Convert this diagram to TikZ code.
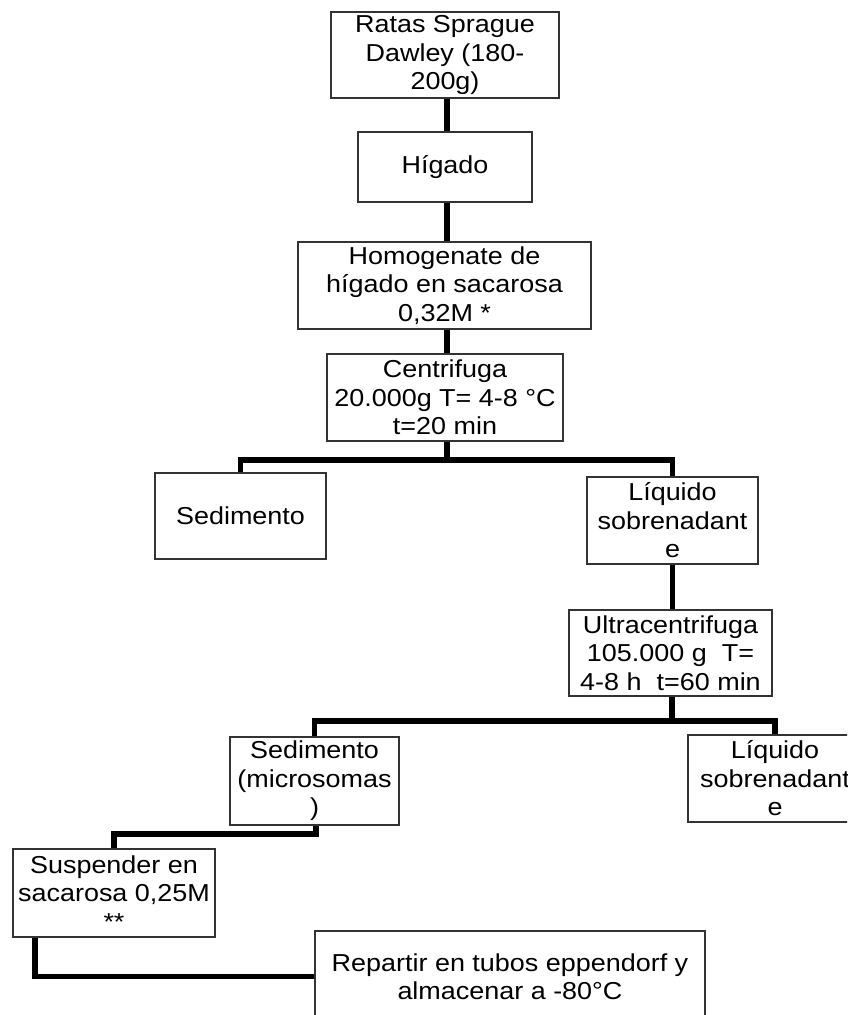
\documentclass[tikz,border=0pt]{standalone}
\usepackage{fontspec}
\setmainfont{Liberation Sans}[FakeStretch=1.1]
\pgfdeclarelayer{background}
\pgfsetlayers{background,main}
\begin{document}
\begin{tikzpicture}[x=1pt,y=-1pt,
  box/.style={draw=black!80, line width=1.8pt, fill=white, inner sep=0pt, align=center,
    font=\fontsize{24.5}{28.5}\selectfont},
  conn/.style={line width=5.5pt, black, line cap=rect, line join=miter}]
\useasboundingbox (0,0) rectangle (847,1015);
\clip (0,0) rectangle (847,1015);

\node[box, minimum width=228pt, minimum height=86pt] (ratas) at (445,55) {Ratas Sprague\\Dawley (180-\\200g)};
\node[box, minimum width=174pt, minimum height=70pt] (higado) at (445,167) {Hígado};
\node[box, minimum width=293pt, minimum height=87pt] (homog) at (444.5,285.5) {Homogenate de\\hígado en sacarosa\\0,32M *};
\node[box, minimum width=236pt, minimum height=87pt] (centr) at (445,397.5) {Centrifuga\\20.000g T= 4-8 °C\\t=20 min};
\node[box, minimum width=171pt, minimum height=86pt] (sed1) at (240.5,516) {Sedimento};
\node[box, minimum width=171pt, minimum height=87pt] (liq1) at (672.5,520.5) {Líquido\\sobrenadant\\e};
\node[box, minimum width=203pt, minimum height=86pt] (ultra) at (670.5,653) {Ultracentrifuga\\105.000 g\ \ T=\\4-8 h\ \ t=60 min};
\node[box, minimum width=169pt, minimum height=88pt] (sed2) at (314.5,781) {Sedimento\\(microsomas\\)};
\node[box, minimum width=174pt, minimum height=87pt] (liq2) at (775,778.5) {Líquido\\sobrenadant\\e};
\node[box, minimum width=202pt, minimum height=88pt] (susp) at (114,893) {Suspender en\\sacarosa 0,25M\\**};
\node[box, minimum width=390pt, minimum height=91pt] (rep) at (510,976.5) {Repartir en tubos eppendorf y\\almacenar a -80°C};

\coordinate (j1) at (447,460);
\coordinate (j2) at (672,721);
\coordinate (j3) at (316,834);
\coordinate (j4) at (35,976.5);

\begin{pgfonlayer}{background}
\fill[white] (0,0) rectangle (847,1015);
\draw[conn] (ratas.south -| j1) -- (higado.north -| j1);
\draw[conn] (higado.south -| j1) -- (homog.north -| j1);
\draw[conn] (homog.south -| j1) -- (centr.north -| j1);
\draw[conn] (centr.south -| j1) -- (j1);
\draw[conn] (j1) -| (sed1.north);
\draw[conn] (j1) -| (liq1.north);
\draw[conn] (liq1.south) -- (liq1.south |- ultra.north);
\draw[conn] (ultra.south -| j2) -- (j2);
\draw[conn] (j2) -| (sed2.north);
\draw[conn] (j2) -| (liq2.north);
\draw[conn] (sed2.south -| j3) -- (j3) -| (susp.north);
\draw[conn] (susp.south -| j4) -- (j4) -- (rep.west);
\end{pgfonlayer}
\end{tikzpicture}
\end{document}
